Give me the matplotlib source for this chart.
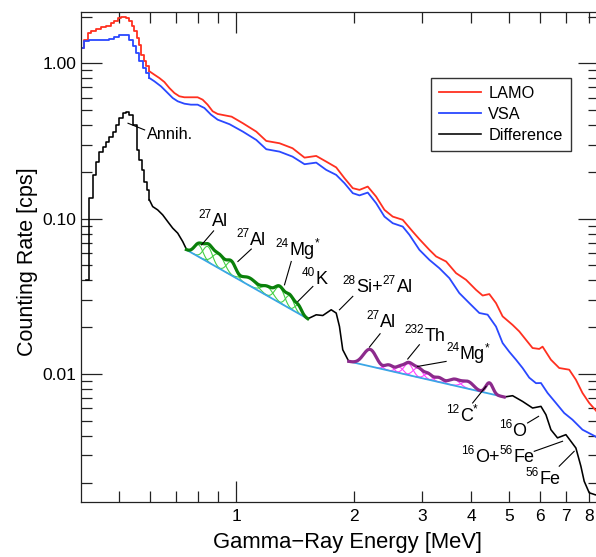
import numpy as np
import matplotlib
matplotlib.use('Agg')
import matplotlib.pyplot as plt
from matplotlib.ticker import FixedLocator, FuncFormatter, NullFormatter
from matplotlib.transforms import offset_copy

plt.rcParams['font.family'] = ['Liberation Sans', 'DejaVu Sans']

# ---------------- data (energy in MeV, rate in cps) ----------------
red_step_E = [0.400, 0.4066, 0.4163, 0.4244, 0.4371, 0.4502, 0.4637, 0.4775, 0.4872, 0.4968,
              0.5066, 0.5217, 0.5323, 0.5395, 0.5482, 0.5567, 0.5647, 0.5700, 0.5792, 0.5871, 0.5989]
red_step_Y = [1.254, 1.418, 1.566, 1.621, 1.669, 1.704, 1.729, 1.816, 1.879, 1.956,
              1.985, 1.956, 1.862, 1.729, 1.606, 1.454, 1.317, 1.136, 1.030, 0.9565, 0.8884]
red_E = [0.5989, 0.6167, 0.6351, 0.6541, 0.6737, 0.6939, 0.7147, 0.7361, 0.7651, 0.7960, 0.8199,
         0.8443, 0.8697, 0.8957, 0.9317, 0.9727, 1.0397, 1.1252, 1.1934, 1.2904, 1.3936, 1.4958,
         1.6024, 1.7001, 1.8030, 1.8933, 1.9885, 2.0685, 2.1720, 2.2817, 2.3969, 2.5168, 2.6700,
         2.8314, 2.9454, 3.1242, 3.2509, 3.4483, 3.6575, 3.8792, 4.1147, 4.2781, 4.4497, 4.6293,
         4.8130, 5.1050, 5.3102, 5.5245, 5.7438, 5.9745, 6.0928, 6.4004, 6.7219, 7.1297, 7.4165,
         7.7110, 8.0225, 8.3112, 8.5]
red_Y = [0.8884, 0.8448, 0.8043, 0.7583, 0.6937, 0.6442, 0.6134, 0.6044, 0.6044, 0.6044, 0.5833,
         0.5418, 0.4913, 0.4721, 0.4630, 0.4535, 0.4113, 0.3633, 0.3165, 0.3058, 0.2840, 0.2471,
         0.2534, 0.2329, 0.2138, 0.1822, 0.1571, 0.1532, 0.1609, 0.1387, 0.1139, 0.1031, 0.0983,
         0.0826, 0.0738, 0.0630, 0.0571, 0.0530, 0.0446, 0.0404, 0.0348, 0.0320, 0.0327, 0.0286,
         0.0235, 0.0207, 0.0188, 0.0166, 0.0147, 0.0145, 0.0150, 0.01236, 0.01093, 0.01066, 0.00919,
         0.00755, 0.00651, 0.00589, 0.0055]

blue_step_E = [0.400, 0.4083, 0.4205, 0.4371, 0.4548, 0.4730, 0.4872, 0.5017, 0.5117, 0.5217,
               0.5323, 0.5428, 0.5534, 0.5647, 0.5756, 0.5871, 0.5989]
blue_step_Y = [1.254, 1.385, 1.418, 1.418, 1.412, 1.433, 1.470, 1.514, 1.527, 1.514,
               1.418, 1.286, 1.165, 1.030, 0.9328, 0.8662, 0.8043]
blue_E = [0.5989, 0.6167, 0.6412, 0.6605, 0.6871, 0.7077, 0.7361, 0.7651, 0.7960, 0.8283, 0.8612,
          0.8957, 0.9613, 1.0397, 1.1252, 1.1934, 1.2904, 1.3936, 1.4958, 1.6024, 1.7001, 1.8030,
          1.8933, 1.9885, 2.0685, 2.1720, 2.2817, 2.3969, 2.5168, 2.6700, 2.7774, 2.9454, 3.1242,
          3.3139, 3.5156, 3.7276, 3.9547, 4.1953, 4.4055, 4.6293, 4.8130, 5.0061, 5.2082, 5.4150,
          5.6327, 5.8613, 6.0349, 6.2755, 6.5917, 6.9217, 7.2681, 7.7110, 8.3112, 8.5]
blue_Y = [0.8043, 0.7663, 0.7111, 0.6606, 0.5981, 0.5696, 0.5497, 0.5418, 0.5418, 0.5159, 0.4673,
          0.4338, 0.4053, 0.3633, 0.3212, 0.2799, 0.2701, 0.2508, 0.2241, 0.2295, 0.2060, 0.1913,
          0.1692, 0.1459, 0.1412, 0.1472, 0.1258, 0.1031, 0.0935, 0.0889, 0.0787, 0.0630, 0.0543,
          0.0480, 0.0414, 0.0332, 0.0286, 0.0247, 0.0241, 0.0202, 0.01583, 0.0139, 0.01236, 0.01093,
          0.00947, 0.00873, 0.00875, 0.00755, 0.00651, 0.00561, 0.00508, 0.00438, 0.00397, 0.0038]

diff_step_E = [0.413, 0.4205, 0.4287, 0.4371, 0.4460, 0.4548, 0.4637, 0.4730, 0.4824, 0.4918,
               0.5017, 0.5117, 0.5217, 0.5323, 0.5428, 0.5567, 0.5647, 0.5724, 0.5816, 0.5905, 0.5989]
diff_step_Y = [0.040, 0.1354, 0.1913, 0.2329, 0.2701, 0.2909, 0.3131, 0.3342, 0.3633, 0.4010,
               0.4429, 0.4813, 0.4885, 0.4651, 0.4010, 0.2770, 0.2388, 0.2060, 0.1732, 0.1532, 0.1321]
diff_E1 = [0.5989, 0.6106, 0.6288, 0.6477, 0.6671, 0.6871, 0.7077, 0.7290, 0.7463]
diff_Y1 = [0.1321, 0.1196, 0.1139, 0.1058, 0.0958, 0.0869, 0.0807, 0.0712, 0.0630]
diff_E2 = [1.525, 1.6024, 1.6659, 1.7506, 1.8030, 1.8381, 1.8740, 1.942]
diff_Y2 = [0.02267, 0.02405, 0.02380, 0.02591, 0.02468, 0.02023, 0.01433, 0.01205]
diff_E3 = [4.86, 5.105, 5.415, 5.744, 6.035, 6.215, 6.400, 6.654, 6.992, 7.200, 7.4165,
           7.638, 7.789, 8.0225, 8.311, 8.5]
diff_Y3 = [0.00711, 0.00725, 0.00666, 0.00604, 0.00619, 0.00547, 0.00438, 0.00388, 0.00407,
           0.00369, 0.00334, 0.00255, 0.00204, 0.00172, 0.00167, 0.00165]

# continuum baselines (end points) and Gaussian line components
green_base_E = [0.745, 1.525]
green_base_Y = [0.0630, 0.02267]
green_E = [0.80, 0.845, 0.90, 0.97, 1.08, 1.20, 1.29, 1.37, 1.44]
green_A = [0.011, 0.0135, 0.011, 0.0095, 0.0045, 0.0045, 0.0075, 0.0055, 0.003]
green_S = [0.02, 0.022, 0.03, 0.025, 0.045, 0.04, 0.035, 0.032, 0.028]

purple_base_E = [1.942, 4.86]
purple_base_Y = [0.01205, 0.00711]
purple_E = [2.20, 2.46, 2.62, 2.76, 2.92, 3.10, 3.30, 3.62, 3.92, 4.45]
purple_A = [0.0032, 0.0009, 0.0009, 0.0018, 0.0014, 0.0008, 0.0006, 0.0008, 0.0009, 0.0013]
purple_S = [0.08, 0.06, 0.06, 0.07, 0.08, 0.07, 0.08, 0.12, 0.13, 0.09]

# annotations: (x, y) of label start, parts, leader line endpoints
labels = [
    (0.5918, 0.3236, [("Annih.", 0)], (0.5279, 0.4113), (0.5823, 0.3725)),
    (0.8008, 0.0892, [("27", 1), ("Al", 0)], (0.8747, 0.0834), (0.8149, 0.0678)),
    (1.000, 0.0678, [("27", 1), ("Al", 0)], (1.0924, 0.0637), (1.0095, 0.0530)),
    (1.2606, 0.0585, [("24", 1), ("Mg", 0), ("*", 1)], (1.383, 0.0530), (1.329, 0.0375)),
    (1.475, 0.0378, [("40", 1), ("K", 0)], (1.571, 0.0366), (1.438, 0.0293)),
    (1.874, 0.0336, [("28", 1), ("Si+", 0), ("27", 1), ("Al", 0)], (1.9885, 0.0316), (1.838, 0.0259)),
    (2.159, 0.0200, [("27", 1), ("Al", 0)], (2.336, 0.01816), (2.194, 0.01491)),
    (2.697, 0.01637, [("232", 1), ("Th", 0)], (2.945, 0.01543), (2.750, 0.01249)),
    (3.448, 0.01249, [("24", 1), ("Mg", 0), ("*", 1)], (3.448, 0.01205), (2.916, 0.01119)),
    (3.448, 0.00501, [("12", 1), ("C", 0), ("*", 1)], (4.033, 0.00651), (4.365, 0.00833)),
    (4.700, 0.00401, [("16", 1), ("O", 0)], (5.577, 0.00484), (5.951, 0.00534)),
    (3.766, 0.00271, [("16", 1), ("O+", 0), ("56", 1), ("Fe", 0)], (5.801, 0.00318), (6.855, 0.00369)),
    (5.524, 0.001956, [("56", 1), ("Fe", 0)], (6.722, 0.00255), (7.342, 0.00318)),
]

x_minor_ticks = [0.5, 0.6, 0.7, 0.8, 0.9, 2, 3, 4, 5, 6, 7, 8]
y_major_ticks = [0.01, 0.1, 1.0]
y_major_labels = ['0.01', '0.10', '1.00']
y_minor_ticks = [0.002, 0.003, 0.004, 0.005, 0.006, 0.007, 0.008, 0.009,
                 0.02, 0.03, 0.04, 0.05, 0.06, 0.07, 0.08, 0.09,
                 0.2, 0.3, 0.4, 0.5, 0.6, 0.7, 0.8, 0.9, 2.0]

# ---------------- figure ----------------
W, H = 596, 557
fig = plt.figure(figsize=(W / 100, H / 100), dpi=100)
ax = fig.add_axes([81 / W, 1 - 502 / H, 518 / W, (502 - 12.3) / H])
ax.set_xscale('log')
ax.set_yscale('log')
ax.set_xlim(0.4, 8.5)
ax.set_ylim(0.0015, 2.13)

RED = '#ff3020'
BLUE = '#2a48ff'
lw = 1.3
ax.plot(red_step_E, red_step_Y, color=RED, lw=lw, drawstyle='steps-post')
h_red, = ax.plot(red_E, red_Y, color=RED, lw=lw)
ax.plot(blue_step_E, blue_step_Y, color=BLUE, lw=lw, drawstyle='steps-post')
h_blue, = ax.plot(blue_E, blue_Y, color=BLUE, lw=lw)
ax.plot(diff_step_E, diff_step_Y, color='black', lw=1.15, drawstyle='steps-post')
h_diff, = ax.plot(diff_E1, diff_Y1, color='black', lw=1.15)
ax.plot(diff_E2, diff_Y2, color='black', lw=1.15)
ax.plot(diff_E3, diff_Y3, color='black', lw=1.15)


def fit_region(base_E, base_Y, cE, cA, cS, comp_color, tot_color):
    e = np.linspace(base_E[0], base_E[1], 300)
    slope = np.log(base_Y[1] / base_Y[0]) / np.log(base_E[1] / base_E[0])
    base = base_Y[0] * (e / base_E[0]) ** slope
    total = base.copy()
    for E0, A, S in zip(cE, cA, cS):
        g = A * np.exp(-0.5 * ((e - E0) / S) ** 2)
        total += g
        m = np.abs(e - E0) < 3.2 * S
        ax.plot(e[m], (base + g)[m], color=comp_color, lw=0.8, zorder=3)
    ax.plot(base_E, base_Y, color='#3aa6e6', lw=1.3, zorder=4)
    ax.plot(e, total, color=tot_color, lw=2.3, zorder=5)


fit_region(green_base_E, green_base_Y, green_E, green_A, green_S, '#45d045', '#0a800a')
fit_region(purple_base_E, purple_base_Y, purple_E, purple_A, purple_S, '#ff40ff', '#8c2a8c')

# ticks
ax.xaxis.set_major_locator(FixedLocator([1]))
ax.xaxis.set_major_formatter(FuncFormatter(lambda v, p: '1'))
ax.xaxis.set_minor_locator(FixedLocator(x_minor_ticks))
ax.xaxis.set_minor_formatter(FuncFormatter(lambda v, p: f'{v:g}' if v >= 2 else ''))
ax.yaxis.set_major_locator(FixedLocator(y_major_ticks))
ax.yaxis.set_major_formatter(FuncFormatter(lambda v, p: y_major_labels[y_major_ticks.index(min(y_major_ticks, key=lambda t: abs(t - v)))]))
ax.yaxis.set_minor_locator(FixedLocator(y_minor_ticks))
ax.yaxis.set_minor_formatter(NullFormatter())
ax.tick_params(which='both', direction='in', top=True, right=True, width=0.9,
               color='#222222', labelsize=12.5)
ax.tick_params(which='major', length=15)
ax.tick_params(which='minor', length=7.7)
ax.tick_params(axis='x', which='both', pad=5)
ax.tick_params(axis='y', which='both', pad=3.5)
for s in ax.spines.values():
    s.set_linewidth(0.9)
    s.set_color('#222222')

fig.text(347.5 / W, 1 - 548 / H, 'Gamma\u2212Ray Energy [MeV]', fontsize=15.8,
         ha='center', va='baseline')
fig.text(33 / W, 1 - 262 / H, 'Counting Rate [cps]', fontsize=15.5, rotation=90,
         rotation_mode='anchor', ha='center', va='baseline')

# labels with superscripts
renderer = fig.canvas.get_renderer()
for x, y, parts, p1, p2 in labels:
    ax.plot([p1[0], p2[0]], [p1[1], p2[1]], color='black', lw=0.8, zorder=6)
    dx = 0.0
    for txt, sup in parts:
        if txt == 'Annih.':
            size = 11.7
        else:
            size = 8.5 if sup else 13
        tr = offset_copy(ax.transData, fig=fig, x=dx, y=(8 if sup else 0), units='dots')
        t = ax.text(x, y, txt, transform=tr, fontsize=size, ha='left', va='baseline', zorder=7)
        bb = t.get_window_extent(renderer=renderer)
        dx += bb.width + (0.5 if sup else 0)

leg = ax.legend([h_red, h_blue, h_diff], ['LAMO', 'VSA', 'Difference'], loc='upper left',
                bbox_to_anchor=(0.675, 0.8665), borderaxespad=0, frameon=True, fancybox=False,
                edgecolor='black', fontsize=11.7, handlelength=2.6, handletextpad=0.45,
                labelspacing=0.38, borderpad=0.5)
leg.get_frame().set_linewidth(1.0)
leg.set_zorder(10)

fig.savefig('out.png', dpi=100)
